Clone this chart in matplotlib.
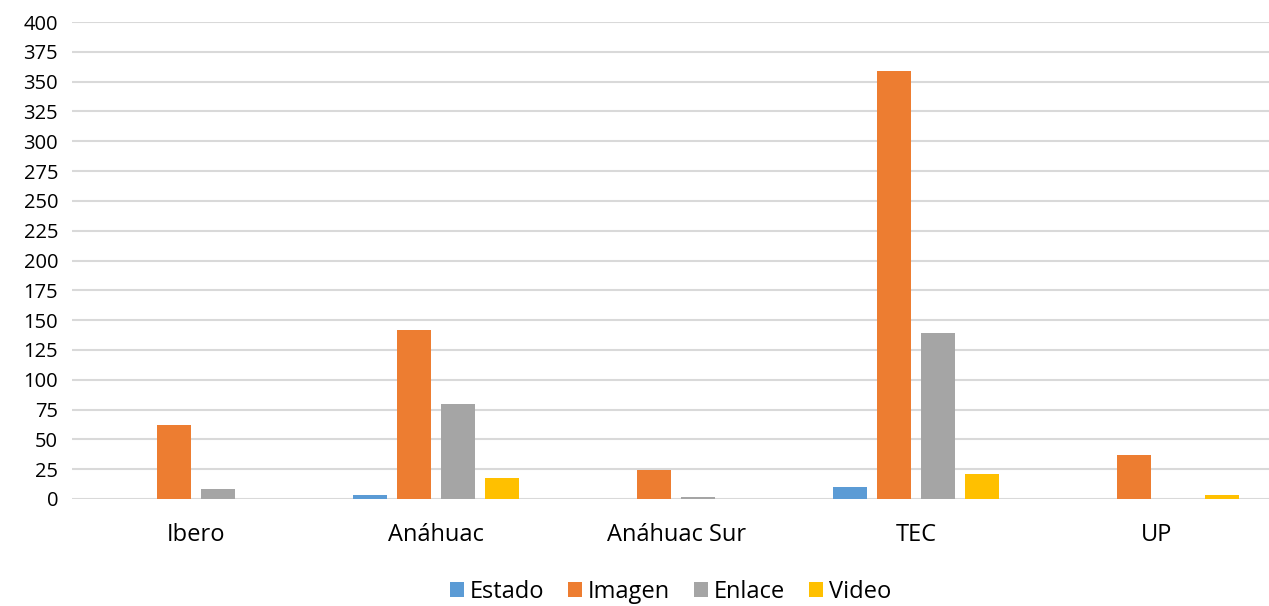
import numpy as np
import matplotlib.pyplot as plt

categories = ['Ibero', 'Anáhuac', 'Anáhuac Sur', 'TEC', 'UP']
estado = [0, 3, 0.4, 10, 0]
imagen = [62, 142, 24, 359, 37]
enlace = [8, 80, 1.5, 139, 0]
video = [0.4, 18, 0.4, 21, 3]

series = [('Estado', estado, '#5B9BD5'),
          ('Imagen', imagen, '#ED7D31'),
          ('Enlace', enlace, '#A5A5A5'),
          ('Video', video, '#FFC000')]

plt.rcParams['font.family'] = ['Open Sans', 'DejaVu Sans']

fig = plt.figure(figsize=(12.69, 6.06), dpi=100)
ax = fig.add_axes([72 / 1269, 1 - 499 / 606, 1197 / 1269, 477 / 606])

x = np.arange(len(categories))
step = 0.183
width = 0.142
for i, (name, vals, color) in enumerate(series):
    ax.bar(x + (i - 1.5) * step, vals, width, color=color, label=name, zorder=3)

ax.set_ylim(0, 400)
ax.set_yticks(np.arange(0, 401, 25))
ax.set_xlim(-0.517, 4.47)
ax.set_xticks(x)
ax.set_xticklabels(categories, fontsize=17)
ax.grid(axis='y', color='#d9d9d9', linewidth=1.5, zorder=0)
for s in ax.spines.values():
    s.set_visible(False)
ax.tick_params(length=0, colors='#000000')
ax.tick_params(axis='y', labelsize=14.5, pad=10)
ax.tick_params(axis='x', pad=17)

# legend along the bottom edge, kept inside the figure
ax.legend(loc='lower center', bbox_to_anchor=(0.5, -0.24), ncol=4, frameon=False,
          fontsize=17, handlelength=0.6, handleheight=0.6, handletextpad=0.25,
          columnspacing=1.0, borderaxespad=0.0)

fig.savefig('out.png', dpi=100)
